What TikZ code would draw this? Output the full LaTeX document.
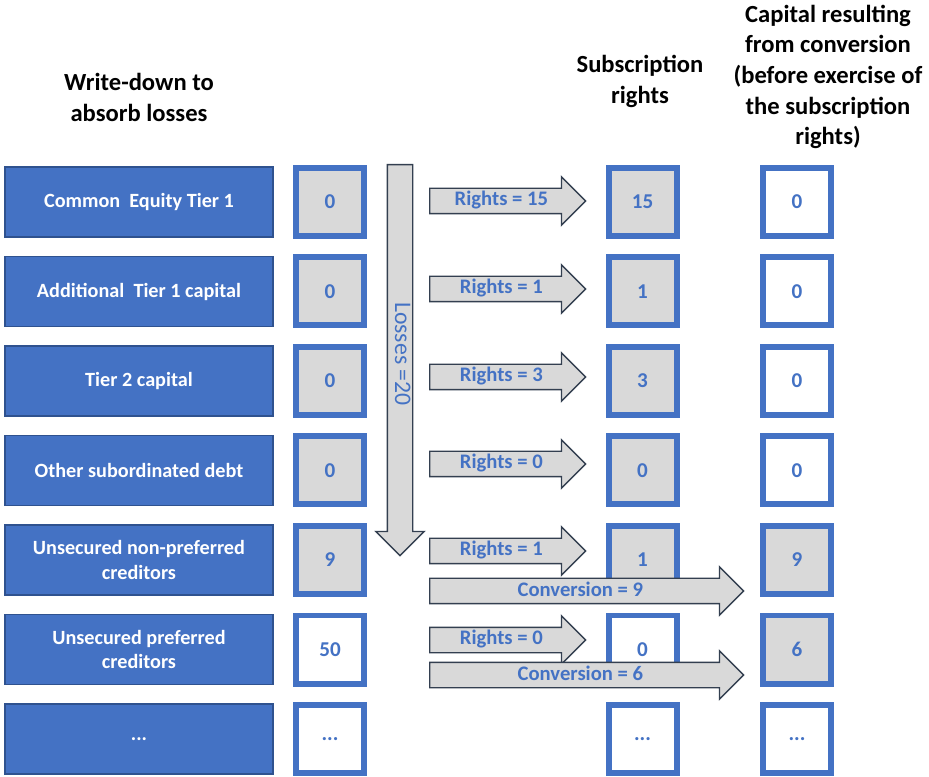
\documentclass[tikz,border=0pt]{standalone}
\usepackage{fontspec}
\setmainfont{Carlito}
\usepackage{xcolor}
\usepackage{tikz}
\usetikzlibrary{shapes.geometric}
\usetikzlibrary{arrows,shapes}
\definecolor{boxblue}{HTML}{4472C4}
\definecolor{boxline}{HTML}{2F528F}
\definecolor{boxgray}{HTML}{D9D9D9}
\definecolor{arrowline}{HTML}{333F50}
\begin{document}
\begin{tikzpicture}
    \useasboundingbox (0,0) rectangle (18.58,15.52);
    \tikzstyle{wbox}=[rectangle, draw=boxline, line width=0.6pt, fill=boxblue, text=white,
    minimum width = 5.36cm, minimum height = 1.4 cm, align=center,
    font=\bfseries\fontsize{11.5}{14.2}\selectfont]
    \tikzstyle{vbox}=[rectangle, draw=boxblue, line width=0.12cm, fill=boxgray, text=boxblue,
    minimum size = 1.36cm, font=\bfseries\fontsize{12}{14}\selectfont]
    \tikzstyle{arr}=[single arrow, draw=arrowline, line width=0.8pt, fill=boxgray, text=boxblue,
    single arrow head extend=0.23cm, inner xsep=2pt, inner ysep=0pt, text height=0.34cm,
    text depth=0.14cm, anchor=tail, font=\bfseries\fontsize{11.75}{14}\selectfont]
    \tikzstyle{head}=[align=center, font=\bfseries\fontsize{14}{17.4}\selectfont]

    % headers
    \node[head](h1) at (2.78,13.57){Write-down to\\absorb losses};
    \node[head](h2) at (12.8,13.89){Subscription\\rights};
    \node[head](h3) at (16.56,13.98){Capital resulting\\from conversion\\(before exercise of\\the subscription\\rights)};

    % write-down column
    \node[wbox](w1) at (2.78,11.48){Common\ \ Equity Tier 1};
    \node[wbox](w2) at (2.78,9.69){Additional\ \ Tier 1 capital};
    \node[wbox](w3) at (2.78,7.90){Tier 2 capital};
    \node[wbox](w4) at (2.78,6.11){Other subordinated debt};
    \node[wbox](w5) at (2.78,4.32){Unsecured non-preferred\\creditors};
    \node[wbox](w6) at (2.78,2.53){Unsecured preferred\\creditors};
    \node[wbox](w7) at (2.78,0.74){...};

    \node[vbox](v1) at (6.6,11.48){0};
    \node[vbox](v2) at (6.6,9.69){0};
    \node[vbox](v3) at (6.6,7.90){0};
    \node[vbox](v4) at (6.6,6.11){0};
    \node[vbox](v5) at (6.6,4.32){9};
    \node[vbox, fill=white](v6) at (6.6,2.53){50};
    \node[vbox, fill=white](v7) at (6.6,0.74){...};

    % subscription rights
    \node[vbox](s1) at (12.85,11.48){15};
    \node[vbox](s2) at (12.85,9.69){1};
    \node[vbox](s3) at (12.85,7.90){3};
    \node[vbox](s4) at (12.85,6.11){0};
    \node[vbox](s5) at (12.85,4.32){1};
    \node[vbox, fill=white](s6) at (12.85,2.53){0};
    \node[vbox, fill=white](s7) at (12.85,0.74){...};

    % capital from conversion
    \node[vbox, fill=white](c1) at (15.94,11.48){0};
    \node[vbox, fill=white](c2) at (15.94,9.69){0};
    \node[vbox, fill=white](c3) at (15.94,7.90){0};
    \node[vbox, fill=white](c4) at (15.94,6.11){0};
    \node[vbox](c5) at (15.94,4.32){9};
    \node[vbox](c6) at (15.94,2.53){6};
    \node[vbox, fill=white](c7) at (15.94,0.74){...};

    % arrows
    \node[arr, rotate=-90, minimum height=7.82cm, font=\fontsize{13.5}{15}\selectfont](loss) at (8.0,12.24){Losses =20};
    \node[arr, minimum height=3.12cm](ra1) at (8.58,11.5){Rights = 15};
    \node[arr, minimum height=3.12cm](ra2) at (8.58,9.74){Rights = 1};
    \node[arr, minimum height=3.12cm](ra3) at (8.58,7.98){Rights = 3};
    \node[arr, minimum height=3.12cm](ra4) at (8.58,6.24){Rights = 0};
    \node[arr, minimum height=3.12cm](ra5) at (8.58,4.5){Rights = 1};
    \node[arr, minimum height=6.28cm](ca5) at (8.58,3.70){Conversion = 9};
    \node[arr, minimum height=3.12cm](ra6) at (8.58,2.72){Rights = 0};
    \node[arr, minimum height=6.28cm](ca6) at (8.58,2.02){Conversion = 6};
\end{tikzpicture}
\end{document}
